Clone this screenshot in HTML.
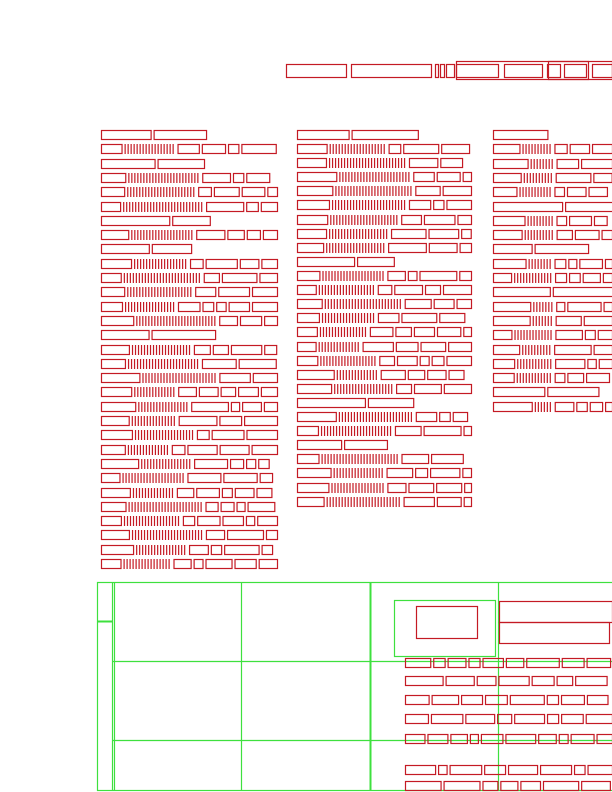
<!DOCTYPE html>
<html><head><meta charset="utf-8"><style>
html,body{margin:0;padding:0;background:#fff;}
svg{display:block}
</style></head><body>
<svg id="s" width="612" height="792" xmlns="http://www.w3.org/2000/svg">
<g fill="none" stroke="#3ee03e" stroke-width="1.2">
<rect x="97.5" y="582.5" width="520" height="208"/>
<line x1="112.5" y1="582" x2="112.5" y2="791"/>
<line x1="114.5" y1="582" x2="114.5" y2="791"/>
<line x1="241.5" y1="582" x2="241.5" y2="791"/>
<line x1="370.5" y1="582" x2="370.5" y2="791" stroke-width="2"/>
<line x1="498.5" y1="582" x2="498.5" y2="791"/>
<line x1="112" y1="661.5" x2="612" y2="661.5"/>
<line x1="112" y1="740.5" x2="612" y2="740.5"/>
<line x1="97" y1="621.5" x2="112" y2="621.5" stroke-width="2"/>
<rect x="394.5" y="600.5" width="101" height="56"/>
</g>
<g id="r" fill="none" stroke="#c41a24" stroke-width="1.2"></g>
<g id="b" fill="#c41a24" stroke="none"></g>
</svg>
<script>
var g=document.getElementById('r');var gb=document.getElementById('b');var NS='http://www.w3.org/2000/svg';
var seed=7;function rnd(){seed=(seed*9301+49297)%233280;return seed/233280;}
function R(x,y,w,h){var e=document.createElementNS(NS,'rect');e.setAttribute('x',x+.5);e.setAttribute('y',y+.5);e.setAttribute('width',w);e.setAttribute('height',h);g.appendChild(e);}
function B(x,y){var e=document.createElementNS(NS,'rect');e.setAttribute('x',x);e.setAttribute('y',y);e.setAttribute('width',1.2);e.setAttribute('height',10);gb.appendChild(e);}
function line(x0,x1,y,bar){var x=x0;var w=18+rnd()*22;R(x,y,w,9);x+=w+3;
 if(bar){var n=14+Math.floor(rnd()*14);for(var i=0;i<n&&x<x1-60;i++){B(x,y);x+=3;}x+=2;}
 while(x<x1-6){w=8+rnd()*30;if(x+w>x1)w=x1-x;R(x,y,w,9);x+=w+3;}}
function shortl(x0,y,n){var x=x0;for(var i=0;i<n;i++){var w=30+rnd()*40;R(x,y,w,9);x+=w+3;}}
[[286,346],[351,431],[435,438],[440,444],[446,454],[456,498],[504,542],[547,560],[564,586],[592,612]].forEach(function(a){R(a[0],64,a[1]-a[0],13);});
R(456,61,132,18);R(548,61,64,18);
var s1=[130,159,216,245,331];
for(var y=130;y<=560;y+=14.3){var yy=Math.round(y);if(s1.some(function(v){return Math.abs(v-yy)<5}))shortl(101,yy,2);else line(101,277,yy,true);}
var s2=[130,256,397,439];
for(var y=130;y<=500;y+=14.1){var yy=Math.round(y);if(s2.some(function(v){return Math.abs(v-yy)<5}))shortl(297,yy,2);else line(297,471,yy,true);}
var s3=[130,201,244,287,387];
for(var y=130;y<=406;y+=14.3){var yy=Math.round(y);if(s3.some(function(v){return Math.abs(v-yy)<5}))shortl(493,yy,yy==130?1:2);else line(493,612,yy,true);}
R(416,606,61,32);R(499,601,113,21);R(499,622,110,21);
[658,676,695,714,734].forEach(function(y){line(405,612,y,false);});
[765,781].forEach(function(y){line(405,612,y,false);});
</script>
</body></html>
